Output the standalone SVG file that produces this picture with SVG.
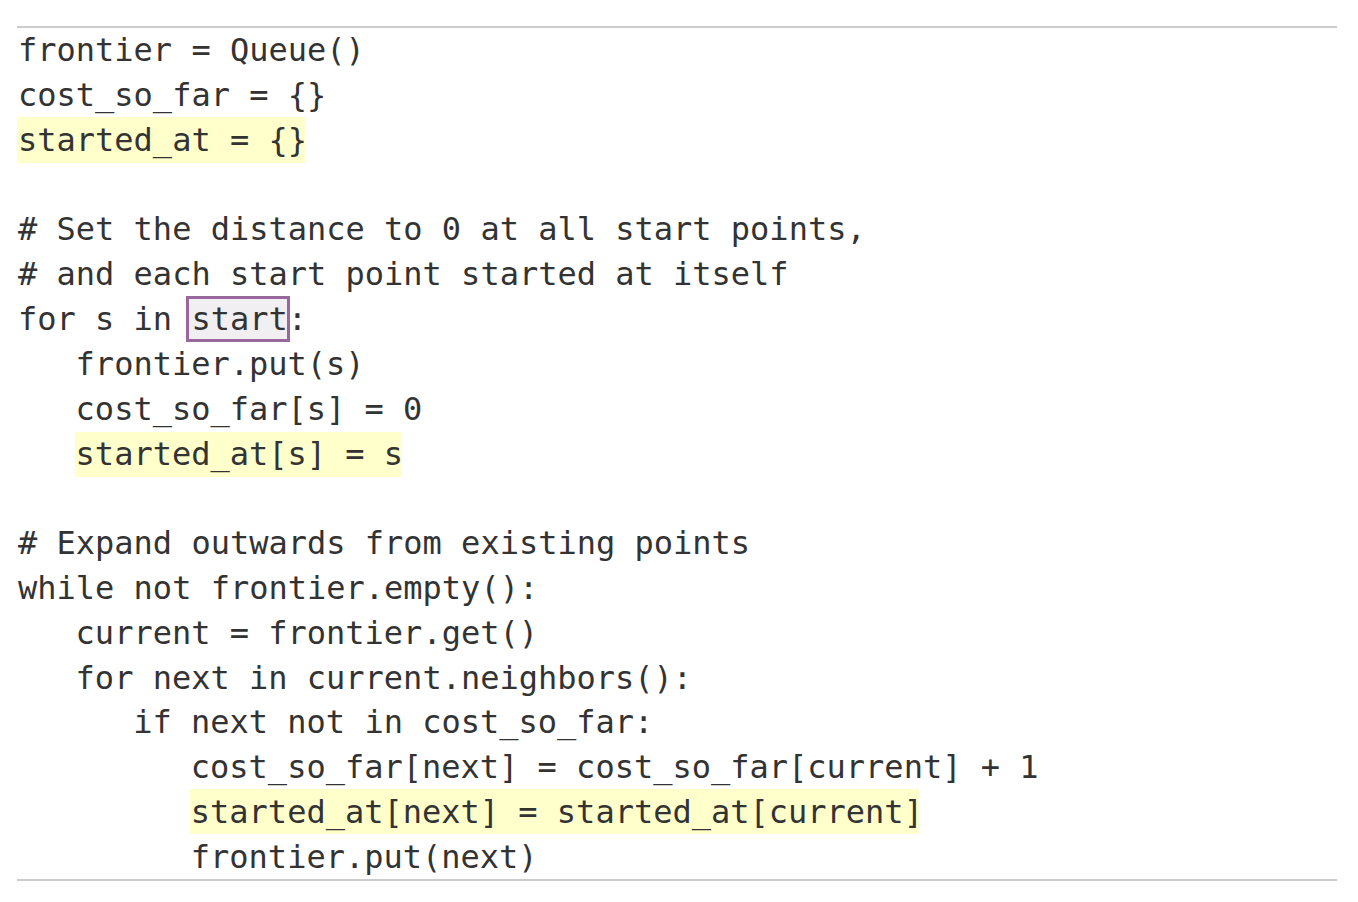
<svg xmlns="http://www.w3.org/2000/svg" width="1358" height="902" viewBox="0 0 1358 902">
<style>
.code{font-family:"DejaVu Sans Mono","Liberation Mono",monospace;font-size:32px;fill:#333333;white-space:pre}
.hl{fill:#ffffcc}
.rule{stroke:#cccccc;stroke-width:2}
</style>
<rect width="1358" height="902" fill="#ffffff"/>
<g id="rules">
<line class="rule" x1="17" y1="27" x2="1337" y2="27"/>
<line class="rule" x1="17" y1="880" x2="1337" y2="880"/>
</g>
<g id="highlights">
<rect class="hl" x="17" y="117" width="288" height="46"/>
<rect class="hl" x="75" y="432" width="327" height="45"/>
<rect class="hl" x="190" y="789" width="729" height="45"/>
</g>
<g id="start-box">
<rect x="187.5" y="297.5" width="101" height="43" fill="#f2eff2" stroke="#98689c" stroke-width="3"/>
</g>
<g id="code" class="code">
<text x="18" y="61">frontier = Queue()</text>
<text x="18" y="105.8">cost_so_far = {}</text>
<text x="18" y="150.7">started_at = {}</text>
<text x="18" y="240.3"># Set the distance to 0 at all start points,</text>
<text x="18" y="285.2"># and each start point started at itself</text>
<text x="18" y="330"><tspan>for s in </tspan><tspan>start</tspan><tspan>:</tspan></text>
<text x="75.6" y="374.8">frontier.put(s)</text>
<text x="75.6" y="419.6">cost_so_far[s] = 0</text>
<text x="75.6" y="464.5">started_at[s] = s</text>
<text x="18" y="554.1"># Expand outwards from existing points</text>
<text x="18" y="599">while not frontier.empty():</text>
<text x="75.6" y="643.8">current = frontier.get()</text>
<text x="75.6" y="688.6">for next in current.neighbors():</text>
<text x="133.2" y="733.4">if next not in cost_so_far:</text>
<text x="190.8" y="778.3">cost_so_far[next] = cost_so_far[current] + 1</text>
<text x="190.8" y="823.1">started_at[next] = started_at[current]</text>
<text x="190.8" y="867.9">frontier.put(next)</text>
</g>
</svg>
